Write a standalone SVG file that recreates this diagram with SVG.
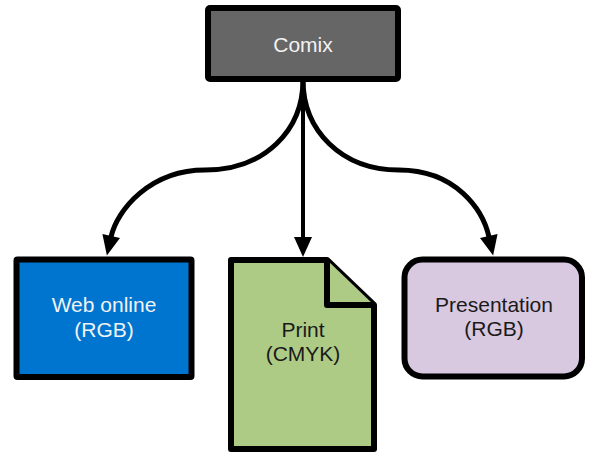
<svg xmlns="http://www.w3.org/2000/svg" width="590" height="454" viewBox="0 0 590 454">
<style>
.node{stroke:#000;stroke-width:6;stroke-linejoin:round}
.lbl{font-family:"Liberation Sans",Arial,sans-serif;font-size:21px;text-anchor:middle}
.light{fill:#f2f2f2}
.dark{fill:#1a1a1a}
.edge{fill:none;stroke:#000;stroke-width:5}
</style>
<defs>
<marker id="ah" markerUnits="userSpaceOnUse" markerWidth="20" markerHeight="18" refX="1" refY="9" orient="auto" overflow="visible">
<path d="M0,0 L20,9 L0,18 Z" fill="#000"/>
</marker>
</defs>
<g id="connectors">
<path class="edge" d="M303,80 C303,130 265,170 205,170 C150,170 117,210 111,237" marker-end="url(#ah)"/>
<path class="edge" d="M303,80 L303,238" style="stroke-width:4" marker-end="url(#ah)"/>
<path class="edge" d="M303,80 C303,130 341,170 399,170 C456,170 483,210 489,237" marker-end="url(#ah)"/>
</g>
<g id="comix">
<rect class="node" x="208" y="8" width="190" height="71" rx="2" fill="#666666"/>
<text class="lbl light" x="303" y="52">Comix</text>
</g>
<g id="web">
<rect class="node" x="16.5" y="259.5" width="175" height="117.5" rx="1" fill="#0075cf"/>
<text class="lbl light" x="104" y="312">Web online</text>
<text class="lbl light" x="104" y="337">(RGB)</text>
</g>
<g id="print">
<path class="node" d="M231,260 L327,260 L374,305 L374,449 L231,449 Z" fill="#aecb86"/>
<path class="node" d="M327,260 L327,305 L374,305" fill="#aecb86"/>
<text class="lbl dark" x="303" y="337">Print</text>
<text class="lbl dark" x="303" y="361">(CMYK)</text>
</g>
<g id="presentation">
<rect class="node" x="404.5" y="259.5" width="177.5" height="117" rx="18" fill="#d8c8e0"/>
<text class="lbl dark" x="494" y="312">Presentation</text>
<text class="lbl dark" x="494" y="336">(RGB)</text>
</g>
</svg>
